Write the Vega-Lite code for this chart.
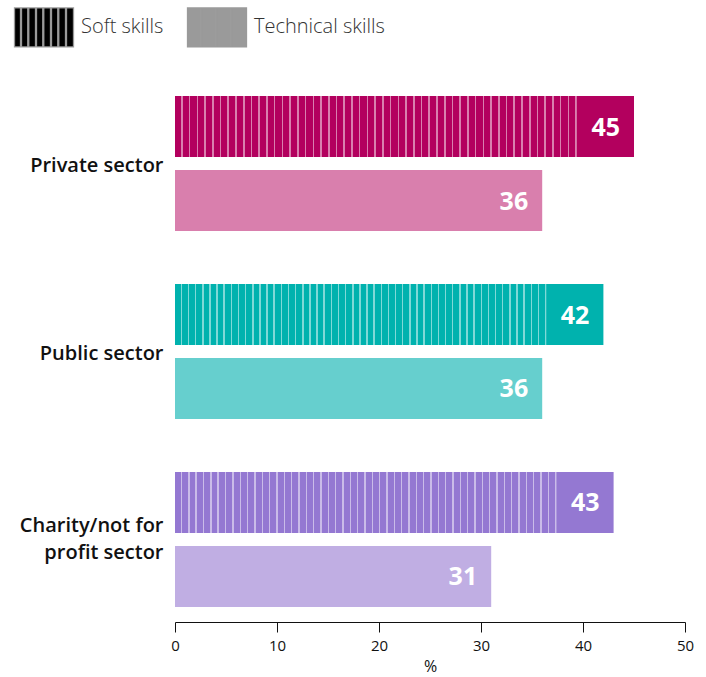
{
  "$schema": "https://vega.github.io/schema/vega-lite/v6.json",
  "width": 510,
  "height": 541,
  "autosize": {"type": "none"},
  "padding": {"left": 175, "top": 81, "right": 21, "bottom": 55},
  "background": "white",
  "config": {"view": {"stroke": null}, "font": "Open Sans"},
  "resolve": {"scale": {"color": "independent"}, "legend": {"color": "independent"}},
  "data": {
    "values": [
      {"sector": "Private sector", "skill": "Soft skills", "combo": "Private sector|Soft skills", "value": 45},
      {"sector": "Private sector", "skill": "Technical skills", "combo": "Private sector|Technical skills", "value": 36},
      {"sector": "Public sector", "skill": "Soft skills", "combo": "Public sector|Soft skills", "value": 42},
      {"sector": "Public sector", "skill": "Technical skills", "combo": "Public sector|Technical skills", "value": 36},
      {"sector": "Charity/not for profit sector", "skill": "Soft skills", "combo": "Charity/not for profit sector|Soft skills", "value": 43},
      {"sector": "Charity/not for profit sector", "skill": "Technical skills", "combo": "Charity/not for profit sector|Technical skills", "value": 31}
    ]
  },
  "encoding": {
    "y": {
      "field": "sector", "type": "nominal", "sort": null,
      "scale": {"paddingInner": 0.282, "paddingOuter": 0.08},
      "axis": {
        "title": null, "domain": false, "ticks": false,
        "labelFontSize": 20, "labelFontWeight": 600, "labelColor": "#111",
        "labelPadding": 12, "labelLimit": 300, "labelLineHeight": 27,
        "labelOffset": {"condition": {"test": "datum.value == 'Charity/not for profit sector'", "value": -13}, "value": 2},
        "labelExpr": "datum.label == 'Charity/not for profit sector' ? ['Charity/not for', 'profit sector'] : datum.label"
      }
    },
    "yOffset": {
      "field": "skill", "type": "nominal", "sort": ["Soft skills", "Technical skills"],
      "scale": {"paddingInner": 0.176, "paddingOuter": 0}
    },
    "x": {
      "field": "value", "type": "quantitative",
      "scale": {"domain": [0, 50], "nice": false},
      "axis": {
        "title": "%", "titleFontSize": 16, "titleFontWeight": "normal", "titleColor": "#111", "titlePadding": 5,
        "values": [0, 10, 20, 30, 40, 50], "grid": false, "labelFlush": false,
        "domainColor": "#111", "tickColor": "#111", "tickSize": 10,
        "labelFontSize": 15, "labelColor": "#111", "labelPadding": 6
      }
    }
  },
  "layer": [
    {
      "mark": {"type": "bar"},
      "encoding": {
        "color": {
          "field": "combo", "type": "nominal", "legend": null,
          "scale": {
            "domain": [
              "Private sector|Soft skills", "Private sector|Technical skills",
              "Public sector|Soft skills", "Public sector|Technical skills",
              "Charity/not for profit sector|Soft skills", "Charity/not for profit sector|Technical skills"
            ],
            "range": ["#b3005e", "#d97fad", "#00b2ae", "#66cfce", "#9478d2", "#c0aee3"]
          }
        }
      }
    },
    {
      "transform": [
        {"filter": "datum.skill == 'Soft skills'"},
        {"calculate": "datum.value - 5.6", "as": "stripeEnd"}
      ],
      "mark": {
        "type": "bar",
        "fill": {
          "gradient": "linear", "x1": 0, "x2": 1, "y1": 0, "y2": 0,
          "stops": [
            {"offset":0,"color":"rgba(255,255,255,0)"},
            {"offset":0.0152,"color":"rgba(255,255,255,0)"},{"offset":0.0152,"color":"rgba(255,255,255,0.5)"},{"offset":0.0192,"color":"rgba(255,255,255,0.5)"},{"offset":0.0192,"color":"rgba(255,255,255,0)"},
            {"offset":0.0345,"color":"rgba(255,255,255,0)"},{"offset":0.0345,"color":"rgba(255,255,255,0.5)"},{"offset":0.0385,"color":"rgba(255,255,255,0.5)"},{"offset":0.0385,"color":"rgba(255,255,255,0)"},
            {"offset":0.0537,"color":"rgba(255,255,255,0)"},{"offset":0.0537,"color":"rgba(255,255,255,0.5)"},{"offset":0.0577,"color":"rgba(255,255,255,0.5)"},{"offset":0.0577,"color":"rgba(255,255,255,0)"},
            {"offset":0.0729,"color":"rgba(255,255,255,0)"},{"offset":0.0729,"color":"rgba(255,255,255,0.5)"},{"offset":0.0769,"color":"rgba(255,255,255,0.5)"},{"offset":0.0769,"color":"rgba(255,255,255,0)"},
            {"offset":0.0922,"color":"rgba(255,255,255,0)"},{"offset":0.0922,"color":"rgba(255,255,255,0.5)"},{"offset":0.0962,"color":"rgba(255,255,255,0.5)"},{"offset":0.0962,"color":"rgba(255,255,255,0)"},
            {"offset":0.1114,"color":"rgba(255,255,255,0)"},{"offset":0.1114,"color":"rgba(255,255,255,0.5)"},{"offset":0.1154,"color":"rgba(255,255,255,0.5)"},{"offset":0.1154,"color":"rgba(255,255,255,0)"},
            {"offset":0.1306,"color":"rgba(255,255,255,0)"},{"offset":0.1306,"color":"rgba(255,255,255,0.5)"},{"offset":0.1346,"color":"rgba(255,255,255,0.5)"},{"offset":0.1346,"color":"rgba(255,255,255,0)"},
            {"offset":0.1498,"color":"rgba(255,255,255,0)"},{"offset":0.1498,"color":"rgba(255,255,255,0.5)"},{"offset":0.1538,"color":"rgba(255,255,255,0.5)"},{"offset":0.1538,"color":"rgba(255,255,255,0)"},
            {"offset":0.1691,"color":"rgba(255,255,255,0)"},{"offset":0.1691,"color":"rgba(255,255,255,0.5)"},{"offset":0.1731,"color":"rgba(255,255,255,0.5)"},{"offset":0.1731,"color":"rgba(255,255,255,0)"},
            {"offset":0.1883,"color":"rgba(255,255,255,0)"},{"offset":0.1883,"color":"rgba(255,255,255,0.5)"},{"offset":0.1923,"color":"rgba(255,255,255,0.5)"},{"offset":0.1923,"color":"rgba(255,255,255,0)"},
            {"offset":0.2075,"color":"rgba(255,255,255,0)"},{"offset":0.2075,"color":"rgba(255,255,255,0.5)"},{"offset":0.2115,"color":"rgba(255,255,255,0.5)"},{"offset":0.2115,"color":"rgba(255,255,255,0)"},
            {"offset":0.2268,"color":"rgba(255,255,255,0)"},{"offset":0.2268,"color":"rgba(255,255,255,0.5)"},{"offset":0.2308,"color":"rgba(255,255,255,0.5)"},{"offset":0.2308,"color":"rgba(255,255,255,0)"},
            {"offset":0.246,"color":"rgba(255,255,255,0)"},{"offset":0.246,"color":"rgba(255,255,255,0.5)"},{"offset":0.25,"color":"rgba(255,255,255,0.5)"},{"offset":0.25,"color":"rgba(255,255,255,0)"},
            {"offset":0.2652,"color":"rgba(255,255,255,0)"},{"offset":0.2652,"color":"rgba(255,255,255,0.5)"},{"offset":0.2692,"color":"rgba(255,255,255,0.5)"},{"offset":0.2692,"color":"rgba(255,255,255,0)"},
            {"offset":0.2845,"color":"rgba(255,255,255,0)"},{"offset":0.2845,"color":"rgba(255,255,255,0.5)"},{"offset":0.2885,"color":"rgba(255,255,255,0.5)"},{"offset":0.2885,"color":"rgba(255,255,255,0)"},
            {"offset":0.3037,"color":"rgba(255,255,255,0)"},{"offset":0.3037,"color":"rgba(255,255,255,0.5)"},{"offset":0.3077,"color":"rgba(255,255,255,0.5)"},{"offset":0.3077,"color":"rgba(255,255,255,0)"},
            {"offset":0.3229,"color":"rgba(255,255,255,0)"},{"offset":0.3229,"color":"rgba(255,255,255,0.5)"},{"offset":0.3269,"color":"rgba(255,255,255,0.5)"},{"offset":0.3269,"color":"rgba(255,255,255,0)"},
            {"offset":0.3422,"color":"rgba(255,255,255,0)"},{"offset":0.3422,"color":"rgba(255,255,255,0.5)"},{"offset":0.3462,"color":"rgba(255,255,255,0.5)"},{"offset":0.3462,"color":"rgba(255,255,255,0)"},
            {"offset":0.3614,"color":"rgba(255,255,255,0)"},{"offset":0.3614,"color":"rgba(255,255,255,0.5)"},{"offset":0.3654,"color":"rgba(255,255,255,0.5)"},{"offset":0.3654,"color":"rgba(255,255,255,0)"},
            {"offset":0.3806,"color":"rgba(255,255,255,0)"},{"offset":0.3806,"color":"rgba(255,255,255,0.5)"},{"offset":0.3846,"color":"rgba(255,255,255,0.5)"},{"offset":0.3846,"color":"rgba(255,255,255,0)"},
            {"offset":0.3998,"color":"rgba(255,255,255,0)"},{"offset":0.3998,"color":"rgba(255,255,255,0.5)"},{"offset":0.4038,"color":"rgba(255,255,255,0.5)"},{"offset":0.4038,"color":"rgba(255,255,255,0)"},
            {"offset":0.4191,"color":"rgba(255,255,255,0)"},{"offset":0.4191,"color":"rgba(255,255,255,0.5)"},{"offset":0.4231,"color":"rgba(255,255,255,0.5)"},{"offset":0.4231,"color":"rgba(255,255,255,0)"},
            {"offset":0.4383,"color":"rgba(255,255,255,0)"},{"offset":0.4383,"color":"rgba(255,255,255,0.5)"},{"offset":0.4423,"color":"rgba(255,255,255,0.5)"},{"offset":0.4423,"color":"rgba(255,255,255,0)"},
            {"offset":0.4575,"color":"rgba(255,255,255,0)"},{"offset":0.4575,"color":"rgba(255,255,255,0.5)"},{"offset":0.4615,"color":"rgba(255,255,255,0.5)"},{"offset":0.4615,"color":"rgba(255,255,255,0)"},
            {"offset":0.4768,"color":"rgba(255,255,255,0)"},{"offset":0.4768,"color":"rgba(255,255,255,0.5)"},{"offset":0.4808,"color":"rgba(255,255,255,0.5)"},{"offset":0.4808,"color":"rgba(255,255,255,0)"},
            {"offset":0.496,"color":"rgba(255,255,255,0)"},{"offset":0.496,"color":"rgba(255,255,255,0.5)"},{"offset":0.5,"color":"rgba(255,255,255,0.5)"},{"offset":0.5,"color":"rgba(255,255,255,0)"},
            {"offset":0.5152,"color":"rgba(255,255,255,0)"},{"offset":0.5152,"color":"rgba(255,255,255,0.5)"},{"offset":0.5192,"color":"rgba(255,255,255,0.5)"},{"offset":0.5192,"color":"rgba(255,255,255,0)"},
            {"offset":0.5345,"color":"rgba(255,255,255,0)"},{"offset":0.5345,"color":"rgba(255,255,255,0.5)"},{"offset":0.5385,"color":"rgba(255,255,255,0.5)"},{"offset":0.5385,"color":"rgba(255,255,255,0)"},
            {"offset":0.5537,"color":"rgba(255,255,255,0)"},{"offset":0.5537,"color":"rgba(255,255,255,0.5)"},{"offset":0.5577,"color":"rgba(255,255,255,0.5)"},{"offset":0.5577,"color":"rgba(255,255,255,0)"},
            {"offset":0.5729,"color":"rgba(255,255,255,0)"},{"offset":0.5729,"color":"rgba(255,255,255,0.5)"},{"offset":0.5769,"color":"rgba(255,255,255,0.5)"},{"offset":0.5769,"color":"rgba(255,255,255,0)"},
            {"offset":0.5922,"color":"rgba(255,255,255,0)"},{"offset":0.5922,"color":"rgba(255,255,255,0.5)"},{"offset":0.5962,"color":"rgba(255,255,255,0.5)"},{"offset":0.5962,"color":"rgba(255,255,255,0)"},
            {"offset":0.6114,"color":"rgba(255,255,255,0)"},{"offset":0.6114,"color":"rgba(255,255,255,0.5)"},{"offset":0.6154,"color":"rgba(255,255,255,0.5)"},{"offset":0.6154,"color":"rgba(255,255,255,0)"},
            {"offset":0.6306,"color":"rgba(255,255,255,0)"},{"offset":0.6306,"color":"rgba(255,255,255,0.5)"},{"offset":0.6346,"color":"rgba(255,255,255,0.5)"},{"offset":0.6346,"color":"rgba(255,255,255,0)"},
            {"offset":0.6498,"color":"rgba(255,255,255,0)"},{"offset":0.6498,"color":"rgba(255,255,255,0.5)"},{"offset":0.6538,"color":"rgba(255,255,255,0.5)"},{"offset":0.6538,"color":"rgba(255,255,255,0)"},
            {"offset":0.6691,"color":"rgba(255,255,255,0)"},{"offset":0.6691,"color":"rgba(255,255,255,0.5)"},{"offset":0.6731,"color":"rgba(255,255,255,0.5)"},{"offset":0.6731,"color":"rgba(255,255,255,0)"},
            {"offset":0.6883,"color":"rgba(255,255,255,0)"},{"offset":0.6883,"color":"rgba(255,255,255,0.5)"},{"offset":0.6923,"color":"rgba(255,255,255,0.5)"},{"offset":0.6923,"color":"rgba(255,255,255,0)"},
            {"offset":0.7075,"color":"rgba(255,255,255,0)"},{"offset":0.7075,"color":"rgba(255,255,255,0.5)"},{"offset":0.7115,"color":"rgba(255,255,255,0.5)"},{"offset":0.7115,"color":"rgba(255,255,255,0)"},
            {"offset":0.7268,"color":"rgba(255,255,255,0)"},{"offset":0.7268,"color":"rgba(255,255,255,0.5)"},{"offset":0.7308,"color":"rgba(255,255,255,0.5)"},{"offset":0.7308,"color":"rgba(255,255,255,0)"},
            {"offset":0.746,"color":"rgba(255,255,255,0)"},{"offset":0.746,"color":"rgba(255,255,255,0.5)"},{"offset":0.75,"color":"rgba(255,255,255,0.5)"},{"offset":0.75,"color":"rgba(255,255,255,0)"},
            {"offset":0.7652,"color":"rgba(255,255,255,0)"},{"offset":0.7652,"color":"rgba(255,255,255,0.5)"},{"offset":0.7692,"color":"rgba(255,255,255,0.5)"},{"offset":0.7692,"color":"rgba(255,255,255,0)"},
            {"offset":0.7845,"color":"rgba(255,255,255,0)"},{"offset":0.7845,"color":"rgba(255,255,255,0.5)"},{"offset":0.7885,"color":"rgba(255,255,255,0.5)"},{"offset":0.7885,"color":"rgba(255,255,255,0)"},
            {"offset":0.8037,"color":"rgba(255,255,255,0)"},{"offset":0.8037,"color":"rgba(255,255,255,0.5)"},{"offset":0.8077,"color":"rgba(255,255,255,0.5)"},{"offset":0.8077,"color":"rgba(255,255,255,0)"},
            {"offset":0.8229,"color":"rgba(255,255,255,0)"},{"offset":0.8229,"color":"rgba(255,255,255,0.5)"},{"offset":0.8269,"color":"rgba(255,255,255,0.5)"},{"offset":0.8269,"color":"rgba(255,255,255,0)"},
            {"offset":0.8422,"color":"rgba(255,255,255,0)"},{"offset":0.8422,"color":"rgba(255,255,255,0.5)"},{"offset":0.8462,"color":"rgba(255,255,255,0.5)"},{"offset":0.8462,"color":"rgba(255,255,255,0)"},
            {"offset":0.8614,"color":"rgba(255,255,255,0)"},{"offset":0.8614,"color":"rgba(255,255,255,0.5)"},{"offset":0.8654,"color":"rgba(255,255,255,0.5)"},{"offset":0.8654,"color":"rgba(255,255,255,0)"},
            {"offset":0.8806,"color":"rgba(255,255,255,0)"},{"offset":0.8806,"color":"rgba(255,255,255,0.5)"},{"offset":0.8846,"color":"rgba(255,255,255,0.5)"},{"offset":0.8846,"color":"rgba(255,255,255,0)"},
            {"offset":0.8998,"color":"rgba(255,255,255,0)"},{"offset":0.8998,"color":"rgba(255,255,255,0.5)"},{"offset":0.9038,"color":"rgba(255,255,255,0.5)"},{"offset":0.9038,"color":"rgba(255,255,255,0)"},
            {"offset":0.9191,"color":"rgba(255,255,255,0)"},{"offset":0.9191,"color":"rgba(255,255,255,0.5)"},{"offset":0.9231,"color":"rgba(255,255,255,0.5)"},{"offset":0.9231,"color":"rgba(255,255,255,0)"},
            {"offset":0.9383,"color":"rgba(255,255,255,0)"},{"offset":0.9383,"color":"rgba(255,255,255,0.5)"},{"offset":0.9423,"color":"rgba(255,255,255,0.5)"},{"offset":0.9423,"color":"rgba(255,255,255,0)"},
            {"offset":0.9575,"color":"rgba(255,255,255,0)"},{"offset":0.9575,"color":"rgba(255,255,255,0.5)"},{"offset":0.9615,"color":"rgba(255,255,255,0.5)"},{"offset":0.9615,"color":"rgba(255,255,255,0)"},
            {"offset":0.9768,"color":"rgba(255,255,255,0)"},{"offset":0.9768,"color":"rgba(255,255,255,0.5)"},{"offset":0.9808,"color":"rgba(255,255,255,0.5)"},{"offset":0.9808,"color":"rgba(255,255,255,0)"},
            {"offset":0.996,"color":"rgba(255,255,255,0)"},{"offset":0.996,"color":"rgba(255,255,255,0.5)"},{"offset":1,"color":"rgba(255,255,255,0.5)"}
          ]
        }
      },
      "encoding": {
        "x": {"field": "stripeEnd", "type": "quantitative"}
      }
    },
    {
      "mark": {"type": "text", "align": "right", "baseline": "middle", "dx": -14, "dy": 1, "fontSize": 25, "fontWeight": "bold", "color": "white"},
      "encoding": {
        "text": {"field": "value", "type": "quantitative"}
      }
    },
    {
      "mark": {"type": "point", "filled": true, "opacity": 0},
      "encoding": {
        "color": {
          "field": "skill", "type": "nominal",
          "scale": {"domain": ["Soft skills", "Technical skills"], "range": ["#000000", "#9a9a9a"]},
          "legend": {
            "title": null, "orient": "none", "legendX": -162, "legendY": -85, "direction": "horizontal",
            "symbolType": "M-0.983,-0.65H-0.783V0.65H-0.983Z M-0.75,-0.65H-0.54V0.65H-0.75Z M-0.507,-0.65H-0.283V0.65H-0.507Z M-0.25,-0.65H-0.04V0.65H-0.25Z M-0.007,-0.65H0.217V0.65H-0.007Z M0.25,-0.65H0.46V0.65H0.25Z M0.493,-0.65H0.717V0.65H0.493Z M0.75,-0.65H0.983V0.65H0.75Z",
            "symbolSize": 3600, "symbolOpacity": 1, "symbolStrokeColor": "#9a9a9a", "symbolStrokeWidth": 1.3,
            "labelFontSize": 20, "labelFontWeight": 300, "labelColor": "#333", "labelOffset": 6, "columnPadding": 20, "labelLimit": 300
          }
        }
      }
    }
  ]
}
